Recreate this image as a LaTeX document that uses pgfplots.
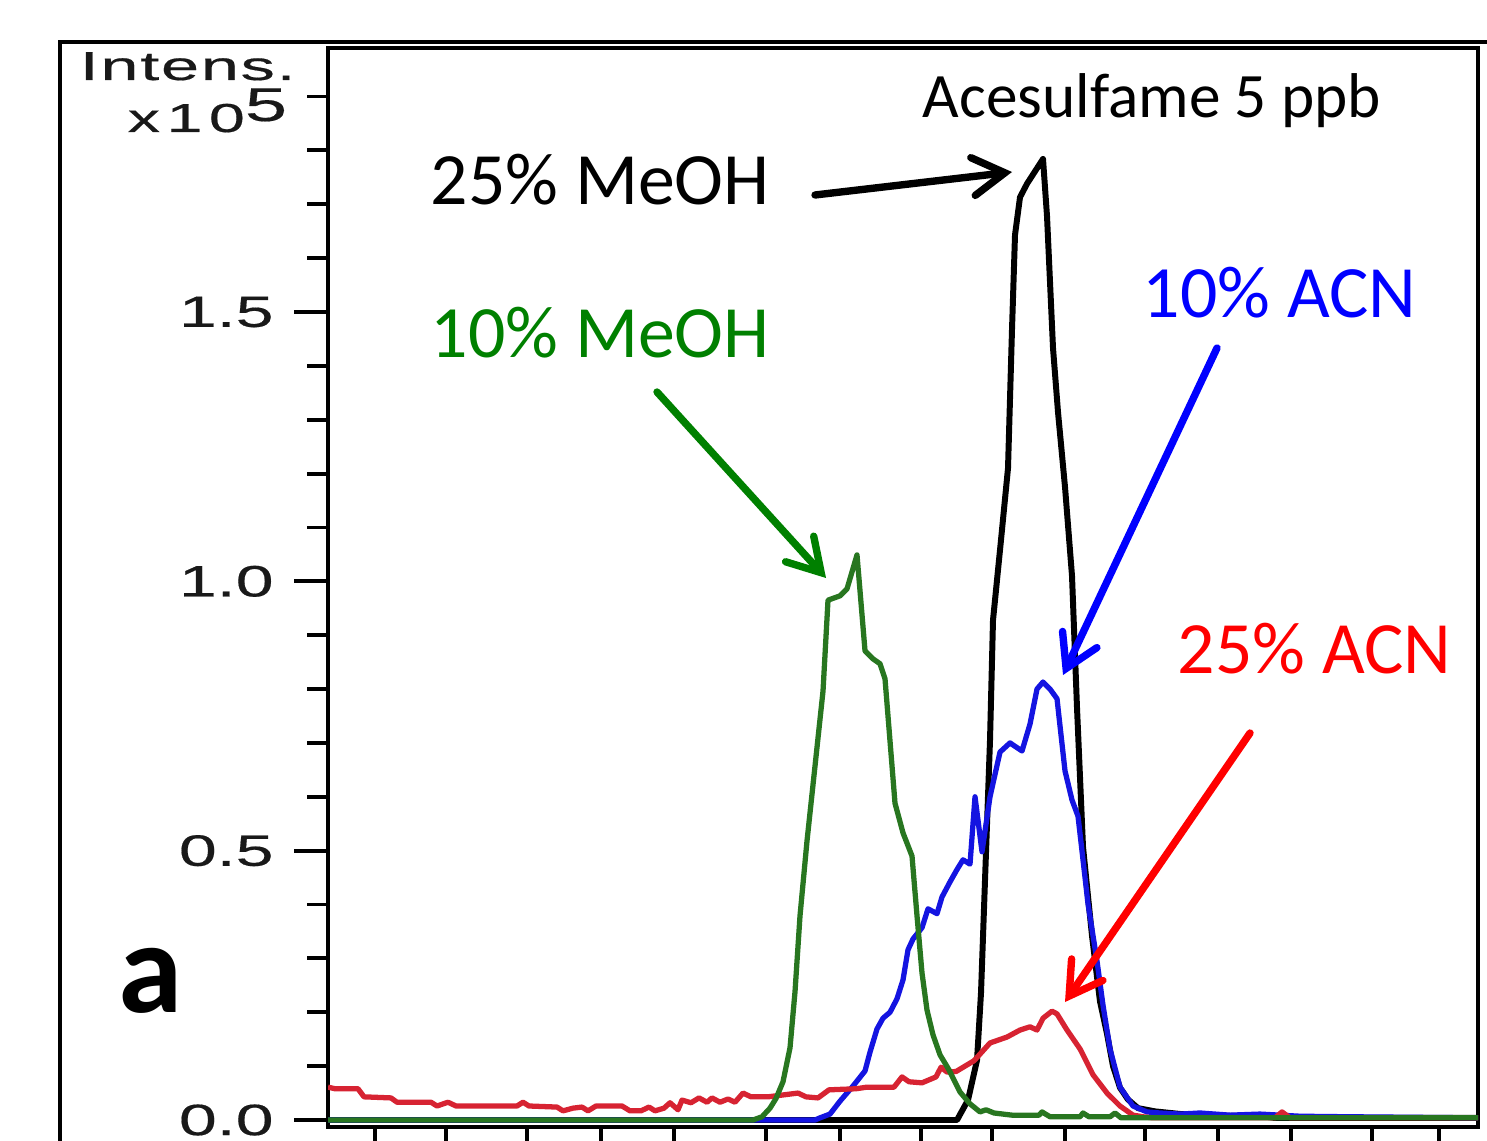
\documentclass[border=0pt]{standalone}
\usepackage{fontspec}
\usepackage{pgfplots}
\pgfplotsset{compat=1.18}
\usetikzlibrary{arrows.meta}
\setmainfont{Carlito}
\newfontfamily\tickfont[FakeStretch=1.55,FakeBold=0.4]{Liberation Sans}
\newfontfamily\intfont[FakeStretch=1.7,FakeBold=0.4,LetterSpace=4]{Liberation Sans}
\newfontfamily\expfont[FakeStretch=1.6,FakeBold=0.4,LetterSpace=16]{Liberation Sans}

\definecolor{cgreen}{RGB}{40,118,32}
\definecolor{cblue}{RGB}{20,20,225}
\definecolor{cred}{RGB}{215,35,50}
\definecolor{tgreen}{RGB}{0,128,0}
\definecolor{tblue}{RGB}{0,0,255}
\definecolor{tred}{RGB}{255,0,0}

\begin{document}
\begin{tikzpicture}
\useasboundingbox (0,0) rectangle (148.7mm,114mm);
\clip (0,0) rectangle (148.7mm,114mm);
\begin{axis}[
    scale only axis,
    width=115mm, height=107.9mm,
    at={(32.8mm,1.3mm)}, anchor=south west,
    xmin=328, xmax=1478, ymin=-0.013, ymax=1.99,
    axis line style={line width=1.2pt},
    tick pos=left, tick align=outside,
    xtick={375,446,527,601,674,766,840,921,992,1065,1145,1218,1291,1372,1439},
    xticklabels={},
    ytick={0,0.5,1,1.5},
    yticklabels={0.0,0.5,1.0,1.5},
    minor ytick={0.1,0.2,0.3,0.4,0.6,0.7,0.8,0.9,1.1,1.2,1.3,1.4,1.6,1.7,1.8,1.9},
    major tick length=3.4mm, minor tick length=2.1mm,
    tick style={black, line width=1.1pt},
    yticklabel style={font=\tickfont\fontsize{12.5}{14}\selectfont, text=black!90, xshift=-0.8mm},
    every axis plot/.append style={no marks, line width=1.5pt, line join=round},
]
% 25% MeOH
\addplot[black, line width=1.7pt] coordinates {
(328,0) (957,0) (968,0.037) (977,0.111) (981,0.236) (985,0.445) (990,0.705)
(993,0.928) (1000,1.058) (1008,1.210) (1012,1.468) (1015,1.643) (1020,1.713)
(1027,1.738) (1043,1.784) (1047,1.678) (1053,1.433) (1058,1.314) (1065,1.175)
(1072,1.010) (1077,0.765) (1083,0.507) (1092,0.342) (1100,0.220) (1107,0.160)
(1113,0.100) (1120,0.060) (1128,0.038) (1138,0.022) (1155,0.016) (1181,0.011)
(1218,0.008) (1263,0.007) (1274,0.004) (1478,0.004)
};
% 10% ACN
\addplot[cblue] coordinates {
(328,0) (815,0) (820,0.004) (830,0.011) (840,0.035) (853,0.063) (865,0.091)
(870,0.126) (877,0.169) (883,0.189) (890,0.200) (897,0.225) (903,0.260)
(908,0.316) (913,0.336) (922,0.357) (928,0.392) (937,0.383) (942,0.414)
(950,0.442) (957,0.465) (963,0.483) (970,0.475) (975,0.600) (982,0.498)
(990,0.600) (1000,0.683) (1010,0.700) (1022,0.685) (1030,0.735) (1037,0.800)
(1043,0.813) (1050,0.800) (1057,0.782) (1065,0.648) (1072,0.594) (1078,0.564)
(1083,0.483) (1088,0.401) (1097,0.295) (1103,0.213) (1110,0.132) (1120,0.061)
(1133,0.026) (1147,0.015) (1160,0.013) (1180,0.011) (1200,0.013) (1230,0.009)
(1260,0.011) (1300,0.007) (1350,0.006) (1478,0.004)
};
% 25% ACN
\addplot[cred] coordinates {
(328,0.061) (335,0.058) (358,0.058) (364,0.043) (391,0.041) (397,0.033)
(431,0.033) (437,0.026) (448,0.033) (456,0.026) (517,0.026) (523,0.033)
(529,0.026) (557,0.024) (563,0.017) (573,0.022) (582,0.024) (588,0.017)
(596,0.026) (622,0.026) (630,0.017) (641,0.017) (649,0.024) (655,0.017)
(664,0.022) (670,0.032) (678,0.019) (682,0.037) (691,0.032) (699,0.041)
(707,0.033) (712,0.041) (720,0.033) (728,0.039) (735,0.033) (743,0.050)
(751,0.043) (768,0.043) (798,0.050) (806,0.043) (818,0.041) (829,0.056)
(856,0.058) (867,0.061) (894,0.061) (902,0.080) (909,0.071) (922,0.069)
(936,0.080) (941,0.098) (947,0.089) (956,0.090) (974,0.110) (990,0.143)
(1007,0.154) (1020,0.167) (1030,0.173) (1037,0.167) (1043,0.189) (1052,0.202)
(1057,0.197) (1067,0.167) (1080,0.132) (1093,0.084) (1107,0.050) (1120,0.026)
(1133,0.009) (1143,0.006) (1153,0.004) (1275,0.004) (1282,0.015) (1290,0.004)
(1478,0.004)
};
% 10% MeOH
\addplot[cgreen] coordinates {
(328,0) (753,0) (762,0.006) (770,0.022) (776,0.040) (783,0.071) (790,0.134)
(795,0.238) (800,0.379) (807,0.518) (815,0.657) (823,0.796) (828,0.965)
(840,0.973) (847,0.986) (857,1.049) (865,0.871) (873,0.856) (880,0.847)
(885,0.819) (895,0.588) (903,0.533) (912,0.490) (917,0.379) (922,0.273)
(927,0.204) (933,0.158) (940,0.121) (949,0.093) (960,0.052) (970,0.030)
(980,0.015) (986,0.019) (994,0.013) (1012,0.009) (1039,0.009) (1042,0.015)
(1050,0.006) (1080,0.006) (1083,0.013) (1089,0.006) (1110,0.006) (1115,0.013)
(1121,0.004) (1478,0.004)
};
\end{axis}

\begin{scope}[x=0.1mm, y=-0.1mm, yshift=114mm]
  \draw[line width=1.4pt] (60,42) rectangle (1520,1180);
  \node[anchor=base west, inner sep=0, text=black!90, font=\intfont\fontsize{11.5}{13}\selectfont] at (79,80) {Intens.};
  \node[anchor=base west, inner sep=0, text=black!90, font=\expfont\fontsize{11.5}{13}\selectfont] at (127,132) {x10\raisebox{1.1mm}{\fontsize{13.5}{15}\selectfont 5}};
  \node[anchor=base west, inner sep=0, font=\fontsize{18}{20}\selectfont] at (922,118) {Acesulfame 5 ppb};
  \node[anchor=base west, inner sep=0, font=\fontsize{21}{24}\selectfont] at (430,205) {25\% MeOH};
  \node[anchor=base west, inner sep=0, text=tgreen, font=\fontsize{21}{24}\selectfont] at (430,358) {10\% MeOH};
  \node[anchor=base west, inner sep=0, text=tblue, font=\fontsize{21}{24}\selectfont] at (1142,318) {10\% ACN};
  \node[anchor=base west, inner sep=0, text=tred, font=\fontsize{21}{24}\selectfont] at (1177,673) {25\% ACN};
  \node[anchor=base west, inner sep=0, font=\bfseries\fontsize{37}{40}\selectfont] at (118,1012) {a};
  \begin{scope}[line width=2.1pt, line cap=round, -{Straight Barb[length=3.2mm, width=3.8mm, line cap=round]}]
    \draw[black] (815,195) -- (1012,172);
    \draw[tgreen] (657,392) -- (826,578);
    \draw[tblue] (1217,348) -- (1063,675);
    \draw[tred] (1250,733) -- (1065,1002);
  \end{scope}
\end{scope}
\end{tikzpicture}
\end{document}
